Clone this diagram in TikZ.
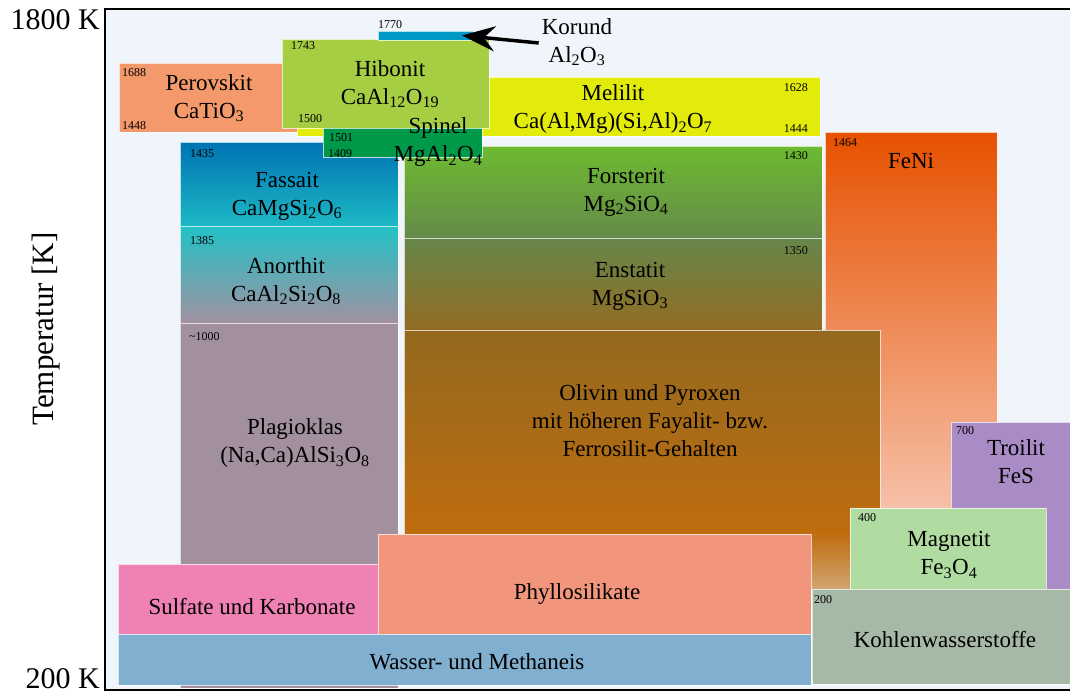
\documentclass[tikz,border=0pt]{standalone}
\usepackage{fontspec}
\setmainfont{Liberation Serif}
\usetikzlibrary{arrows.meta}
\definecolor{bgc}{HTML}{EFF5FA}
\definecolor{perc}{HTML}{F4996B}
\definecolor{hibc}{HTML}{A6CE42}
\definecolor{melc}{HTML}{E3EB0A}
\definecolor{spic}{HTML}{00994A}
\definecolor{korc}{HTML}{0099C6}
\definecolor{fasT}{HTML}{0073B3}
\definecolor{fasB}{HTML}{1DB9C5}
\definecolor{anoT}{HTML}{22C1C6}
\definecolor{anoB}{HTML}{A291A1}
\definecolor{plac}{HTML}{A2909E}
\definecolor{forT}{HTML}{6DBB30}
\definecolor{forB}{HTML}{658A4A}
\definecolor{ensT}{HTML}{658749}
\definecolor{ensB}{HTML}{946C24}
\definecolor{olT}{HTML}{93691F}
\definecolor{olM}{HTML}{BF6D0E}
\definecolor{olB}{HTML}{D2A672}
\definecolor{feT}{HTML}{E65100}
\definecolor{feB}{HTML}{FAD9CD}
\definecolor{troc}{HTML}{A98BC6}
\definecolor{magc}{HTML}{B0DCA2}
\definecolor{kohc}{HTML}{A6B8A6}
\definecolor{phyc}{HTML}{F1957C}
\definecolor{sulc}{HTML}{F081B5}
\definecolor{wasc}{HTML}{80AFCF}
\pgfdeclareverticalshading{olivinsh}{100bp}{color(0bp)=(olB); color(25bp)=(olB); color(36bp)=(olM); color(75bp)=(olT); color(100bp)=(olT)}
\newcommand\sbs[1]{\textsubscript{#1}}
\newcommand\rbox[6]{\node[box,#6,minimum width={#4-#2},minimum height={#5-#3}] (#1) at (#2,#3) {};}
\begin{document}
\begin{tikzpicture}[x=1pt,y=-1pt,
  box/.style={draw=white, draw opacity=0.7, line width=0.8pt, inner sep=0pt, outer sep=0pt, anchor=north west},
  lbl/.style={font=\fontsize{23}{28}\selectfont, align=center, inner sep=0pt},
  num/.style={font=\fontsize{12}{12}\selectfont, inner sep=0pt},
  axl/.style={font=\fontsize{30}{32}\selectfont, inner sep=0pt},
  pointer/.style={line width=3.5pt, -{Stealth[length=33pt,width=25pt,inset=11pt]}}]
\useasboundingbox (0,0) rectangle (1070,693);
\clip (0,0) rectangle (1070,693);
\fill[white] (0,0) rectangle (1070,693);
\fill[bgc] (105,9.5) rectangle (1080,690);
% boxes
\rbox{plag}{180}{323}{398}{688}{fill=plac}
\rbox{anor}{180}{226}{398}{323}{top color=anoT,bottom color=anoB}
\rbox{fass}{180}{142}{398}{226}{top color=fasT,bottom color=fasB}
\rbox{fors}{404}{146}{822}{238}{top color=forT,bottom color=forB}
\rbox{enst}{404}{238}{822}{330}{top color=ensT,bottom color=ensB}
\rbox{pero}{119}{63}{298}{132}{fill=perc}
\rbox{meli}{297}{77}{820}{136}{fill=melc}
\rbox{hibo}{282}{39}{489}{128}{fill=hibc}
\rbox{spin}{323}{128}{482}{157}{fill=spic}
\rbox{koru}{378}{31}{473}{40}{fill=korc}
\rbox{feni}{825}{132}{997}{590}{top color=feT,bottom color=feB}
\rbox{oliv}{404}{330}{880}{590}{shading=olivinsh}
\rbox{troi}{951}{422}{1075}{590}{fill=troc}
\rbox{magn}{850}{508}{1046}{589}{fill=magc}
\rbox{sulf}{118}{564}{378}{634}{fill=sulc}
\rbox{phyl}{378}{534}{811}{634}{fill=phyc}
\rbox{wass}{118}{634}{811}{685}{fill=wasc}
\rbox{kohl}{812}{589}{1075}{684}{fill=kohc}
% frame
\draw[line width=2pt] (105,9.5) rectangle (1080,690);
% axis labels
\node[axl, anchor=base east] (t1800) at (100,30) {1800 K};
\node[axl, anchor=base east, text depth=0pt] (t200) at (100,688.5) {200 K};
\node[axl, font=\fontsize{31}{32}\selectfont, rotate=90, anchor=base] (tlab) at (53,329) {Temperatur [K]};
% main labels
\node[lbl] (lkor) at (577,42) {Korund\\Al\sbs{2}O\sbs{3}};
\node[lbl] (lhib) at (390,84) {Hibonit\\CaAl\sbs{12}O\sbs{19}};
\node[lbl] (lper) at (209,98) {Perovskit\\CaTiO\sbs{3}};
\node[lbl] (lmel) at (613,109) {Melilit\\Ca(Al,Mg)(Si,Al)\sbs{2}O\sbs{7}};
\node[lbl] (lspi) at (438,142) {Spinel\\MgAl\sbs{2}O\sbs{4}};
\node[lbl] (lfas) at (287,196) {Fassait\\CaMgSi\sbs{2}O\sbs{6}};
\node[lbl] (lano) at (286,281) {Anorthit\\CaAl\sbs{2}Si\sbs{2}O\sbs{8}};
\node[lbl] (lpla) at (295,443) {Plagioklas\\(Na,Ca)AlSi\sbs{3}O\sbs{8}};
\node[lbl] (lfor) at (626,192) {Forsterit\\Mg\sbs{2}SiO\sbs{4}};
\node[lbl] (lens) at (630,286) {Enstatit\\MgSiO\sbs{3}};
\node[lbl] (loli) at (650,421) {Olivin und Pyroxen\\mit höheren Fayalit- bzw.\\Ferrosilit-Gehalten};
\node[lbl] (lfen) at (911,161) {FeNi};
\node[lbl] (ltro) at (1016,462) {Troilit\\FeS};
\node[lbl] (lmag) at (949,555) {Magnetit\\Fe\sbs{3}O\sbs{4}};
\node[lbl] (lkoh) at (945,640) {Kohlenwasserstoffe};
\node[lbl] (lphy) at (577,594) {Phyllosilikate};
\node[lbl] (lsul) at (252,607) {Sulfate und Karbonate};
\node[lbl] (lwas) at (477,662) {Wasser- und Methaneis};
% numbers
\node[num, anchor=base west] (n1770) at (378,29) {1770};
\node[num, anchor=base west] (n1743) at (291,50) {1743};
\node[num, anchor=base west] (n1688) at (122,76) {1688};
\node[num, anchor=base west] (n1448) at (122,129) {1448};
\node[num, anchor=base west] (n1500) at (298,122) {1500};
\node[num, anchor=base west] (n1501) at (329,141) {1501};
\node[num, anchor=base west] (n1409) at (328,157) {1409};
\node[num, anchor=base west] (n1435) at (190,157) {1435};
\node[num, anchor=base west] (n1385) at (190,244) {1385};
\node[num, anchor=base west] (n1000) at (189,340) {\textasciitilde1000};
\node[num, anchor=base east] (n1628) at (808,91) {1628};
\node[num, anchor=base east] (n1444) at (808,132) {1444};
\node[num, anchor=base east] (n1430) at (808,159) {1430};
\node[num, anchor=base east] (n1350) at (808,254) {1350};
\node[num, anchor=base west] (n1464) at (833,146) {1464};
\node[num, anchor=base west] (n700) at (956,434) {700};
\node[num, anchor=base west] (n400) at (858,521) {400};
\node[num, anchor=base west] (n200) at (814,603) {200};
% pointer
\draw[pointer] ([xshift=-3pt,yshift=-1pt]lkor.west) -- ([xshift=-11pt]koru.east);
\end{tikzpicture}
\end{document}
